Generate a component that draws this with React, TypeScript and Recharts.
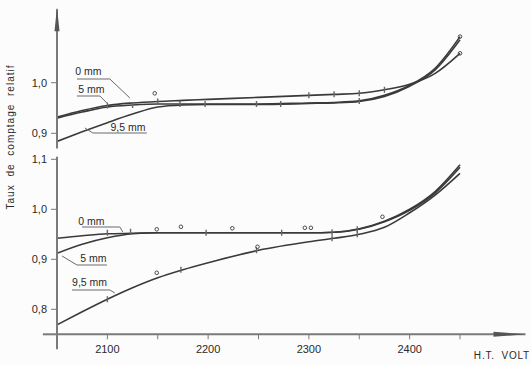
import React from 'react';
import {
  ComposedChart, Line, Scatter, XAxis, YAxis, ReferenceLine, ReferenceDot,
} from 'recharts';

// Relative count rate vs high voltage, two detector set-ups (upper / lower panel)

const VOLTS = [2050, 2075, 2100, 2125, 2150, 2175, 2200, 2250, 2300, 2325, 2350, 2375, 2400, 2425, 2450];

// upper panel
const TOP_0MM = [0.932, 0.945, 0.955, 0.960, 0.963, 0.965, 0.967, 0.971, 0.975, 0.977, 0.979, 0.986, 0.997, 1.018, 1.058];
const TOP_5MM = [0.930, 0.942, 0.952, 0.956, 0.958, 0.958, 0.958, 0.958, 0.960, 0.961, 0.964, 0.975, 0.995, 1.028, 1.091];
const TOP_95MM = [0.884, 0.903, 0.921, 0.938, 0.952, 0.956, 0.957, 0.957, 0.959, 0.960, 0.963, 0.973, 0.993, 1.025, 1.085];

// lower panel
const BOT_0MM = [0.942, 0.947, 0.951, 0.952, 0.953, 0.953, 0.953, 0.953, 0.953, 0.954, 0.961, 0.976, 1.000, 1.035, 1.089];
const BOT_5MM = [0.912, 0.930, 0.943, 0.951, 0.953, 0.953, 0.953, 0.953, 0.953, 0.954, 0.960, 0.975, 0.998, 1.032, 1.084];
const BOT_95MM = [0.769, 0.795, 0.820, 0.843, 0.863, 0.879, 0.893, 0.918, 0.935, 0.942, 0.950, 0.964, 0.993, 1.028, 1.072];

// measured points (open circles) and tick marks on the curves
const TOP_CIRCLES = [
  { v: 2147, y: 0.979 }, { v: 2450, y: 1.091 }, { v: 2450, y: 1.058 },
];
const TOP_BARS = [
  { v: 2100, y: 0.955 }, { v: 2150, y: 0.963 }, { v: 2300, y: 0.975 }, { v: 2325, y: 0.977 },
  { v: 2350, y: 0.979 }, { v: 2375, y: 0.986 }, { v: 2125, y: 0.956 }, { v: 2172, y: 0.958 },
  { v: 2197, y: 0.958 }, { v: 2248, y: 0.958 }, { v: 2272, y: 0.958 }, { v: 2350, y: 0.964 },
];
const BOT_CIRCLES = [
  { v: 2149, y: 0.960 }, { v: 2173, y: 0.965 }, { v: 2224, y: 0.962 }, { v: 2249, y: 0.925 },
  { v: 2149, y: 0.873 }, { v: 2296, y: 0.963 }, { v: 2302, y: 0.963 }, { v: 2373, y: 0.985 },
];
const BOT_BARS = [
  { v: 2100, y: 0.953 }, { v: 2123, y: 0.955 }, { v: 2198, y: 0.953 }, { v: 2273, y: 0.953 },
  { v: 2323, y: 0.954 }, { v: 2348, y: 0.960 }, { v: 2100, y: 0.820 }, { v: 2173, y: 0.879 },
  { v: 2248, y: 0.918 }, { v: 2323, y: 0.942 }, { v: 2348, y: 0.950 },
];

const X_TICKS = [2100, 2150, 2200, 2250, 2300, 2350, 2400, 2450];
const TOP_Y_TICKS = [0.9, 1.0];
const BOT_Y_TICKS = [0.8, 0.9, 1.0, 1.1];

// curve labels with their leader lines (data coordinates)
const TOP_CALLOUTS = [
  { text: '0 mm', at: [2068, 1.015], path: [[2069.8, 1.0073], [2102.5, 1.0073], [2122.3, 0.9698]] },
  { text: '5 mm', at: [2071, 0.9796], path: [[2069.8, 0.9737], [2092.6, 0.9737], [2099.5, 0.9599]] },
  { text: '9,5 mm', at: [2103, 0.9055], path: [[2139.1, 0.9006], [2085.6, 0.9006], [2077.7, 0.9105]] },
];
const BOT_CALLOUTS = [
  { text: '0 mm', at: [2071, 0.9686], path: [[2074.8, 0.9646], [2112.4, 0.9646], [2115.3, 0.9546]] },
  { text: '5 mm', at: [2073, 0.8956], path: [[2055, 0.9066], [2069.8, 0.8886], [2099.5, 0.8886]] },
  { text: '9,5 mm', at: [2065, 0.8466], path: [[2064.9, 0.8386], [2102.5, 0.8386], [2107.4, 0.8326]] },
];

const toRows = (a: number[], b: number[], c: number[]) =>
  VOLTS.map((v, i) => ({ v, mm0: a[i], mm5: b[i], mm95: c[i] }));

const topRows = toRows(TOP_0MM, TOP_5MM, TOP_95MM);
const botRows = toRows(BOT_0MM, BOT_5MM, BOT_95MM);

const INK = '#3a3a3a';
const AXIS = '#7a7a7a';
const FONT = '"Liberation Sans", Arial, sans-serif';
const X_DOMAIN: [number, number] = [2050, 2515];

const fmtY = (v: number) => v.toFixed(1).replace('.', ',');

const circleShape = (p: any) => (
  <circle cx={p.cx} cy={p.cy} r={1.8} fill="none" stroke={INK} strokeWidth={0.9} />
);
const barShape = (p: any) => (
  <line x1={p.cx} x2={p.cx} y1={p.cy - 3} y2={p.cy + 3} stroke="#666" strokeWidth={1.4} />
);

const renderCallouts = (list: typeof TOP_CALLOUTS, prefix: string) =>
  list.flatMap((c, i) => {
    const segs = c.path.slice(1).map((pt, j) => (
      <ReferenceLine
        key={`${prefix}-seg-${i}-${j}`}
        segment={[{ x: c.path[j][0], y: c.path[j][1] }, { x: pt[0], y: pt[1] }]}
        stroke="#6a6a6a"
        strokeWidth={1}
        ifOverflow="visible"
      />
    ));
    const label = (
      <ReferenceDot
        key={`${prefix}-txt-${i}`}
        x={c.at[0]}
        y={c.at[1]}
        r={0}
        ifOverflow="visible"
        shape={(p: any) => (
          <text x={p.cx} y={p.cy} fontSize={10.5} fontFamily={FONT} fill="#2a2a2a">
            {c.text}
          </text>
        )}
      />
    );
    return [...segs, label];
  });

const lines = (rows: any[]) => [
  <Line key="l0" data={rows} dataKey="mm0" type="monotone" stroke={INK} strokeWidth={1.6} dot={false} isAnimationActive={false} />,
  <Line key="l5" data={rows} dataKey="mm5" type="monotone" stroke={INK} strokeWidth={1.6} dot={false} isAnimationActive={false} />,
  <Line key="l95" data={rows} dataKey="mm95" type="monotone" stroke={INK} strokeWidth={1.6} dot={false} isAnimationActive={false} />,
];

export default function App() {
  return (
    <div style={{ position: 'absolute', left: 0, top: 0, width: 531, height: 365, background: '#fcfcfc', fontFamily: FONT }}>
      {/* upper panel */}
      <div style={{ position: 'absolute', left: 0, top: 0 }}>
        <ComposedChart width={531} height={160} data={topRows} margin={{ top: 9.3, right: 5.5, bottom: 11.5, left: 0 }}>
          <XAxis dataKey="v" type="number" domain={X_DOMAIN} hide allowDataOverflow />
          <YAxis
            type="number"
            domain={[0.87, 1.145]}
            ticks={TOP_Y_TICKS}
            tickFormatter={fmtY}
            width={57}
            allowDataOverflow
            axisLine={{ stroke: AXIS, strokeWidth: 2 }}
            tickLine={{ stroke: AXIS }}
            tickSize={6}
            tickMargin={4}
            tick={{ fontSize: 11, fill: '#2a2a2a', fontFamily: FONT }}
          />
          <ReferenceDot
            x={2050}
            y={1.145}
            r={0}
            ifOverflow="visible"
            shape={(p: any) => (
              <polygon points={`${p.cx},${p.cy - 2} ${p.cx - 2.5},${p.cy + 22} ${p.cx + 2.5},${p.cy + 22}`} fill="#555" />
            )}
          />
          {lines(topRows)}
          <Scatter data={TOP_BARS} dataKey="y" shape={barShape} isAnimationActive={false} />
          <Scatter data={TOP_CIRCLES} dataKey="y" shape={circleShape} isAnimationActive={false} />
          {renderCallouts(TOP_CALLOUTS, 'top')}
        </ComposedChart>
      </div>

      {/* lower panel */}
      <div style={{ position: 'absolute', left: 0, top: 150 }}>
        <ComposedChart width={531} height={215} data={botRows} margin={{ top: 6.8, right: 5.5, bottom: 0, left: 0 }}>
          <XAxis
            dataKey="v"
            type="number"
            domain={X_DOMAIN}
            ticks={X_TICKS}
            tickFormatter={(v: number) => (v % 100 === 0 ? String(v) : '')}
            allowDataOverflow
            height={30.7}
            axisLine={{ stroke: AXIS, strokeWidth: 2 }}
            tickLine={{ stroke: AXIS }}
            tickSize={5}
            tickMargin={6}
            tick={{ fontSize: 11, fill: '#2a2a2a', fontFamily: FONT }}
          />
          <YAxis
            type="number"
            domain={[0.75, 1.105]}
            ticks={BOT_Y_TICKS}
            tickFormatter={fmtY}
            width={57}
            allowDataOverflow
            axisLine={{ stroke: AXIS, strokeWidth: 2 }}
            tickLine={{ stroke: AXIS }}
            tickSize={6}
            tickMargin={4}
            tick={{ fontSize: 11, fill: '#2a2a2a', fontFamily: FONT }}
          />
          <ReferenceLine segment={[{ x: 2036, y: 0.75 }, { x: 2050, y: 0.75 }]} stroke={AXIS} strokeWidth={2} ifOverflow="visible" />
          <ReferenceLine segment={[{ x: 2050, y: 0.75 }, { x: 2050, y: 0.72 }]} stroke={AXIS} strokeWidth={2} ifOverflow="visible" />
          <ReferenceDot
            x={2515}
            y={0.75}
            r={0}
            ifOverflow="visible"
            shape={(p: any) => (
              <polygon points={`${p.cx},${p.cy} ${p.cx - 32},${p.cy - 2.5} ${p.cx - 32},${p.cy + 2.5}`} fill="#555" />
            )}
          />
          {lines(botRows)}
          <Scatter data={BOT_BARS} dataKey="y" shape={barShape} isAnimationActive={false} />
          <Scatter data={BOT_CIRCLES} dataKey="y" shape={circleShape} isAnimationActive={false} />
          {renderCallouts(BOT_CALLOUTS, 'bot')}
        </ComposedChart>
      </div>

      {/* axis titles */}
      <svg width={531} height={365} style={{ position: 'absolute', left: 0, top: 0, pointerEvents: 'none' }}>
        <text
          transform="translate(14,137) rotate(-90)"
          textAnchor="middle"
          fontSize={10}
          letterSpacing={1}
          wordSpacing={4}
          fontFamily={FONT}
          fill="#2a2a2a"
        >
          Taux de comptage relatif
        </text>
        <text x={530} y={359} textAnchor="end" fontSize={10} letterSpacing={0.8} wordSpacing={3} fontFamily={FONT} fill="#2a2a2a">
          H.T. VOLT
        </text>
      </svg>
    </div>
  );
}
